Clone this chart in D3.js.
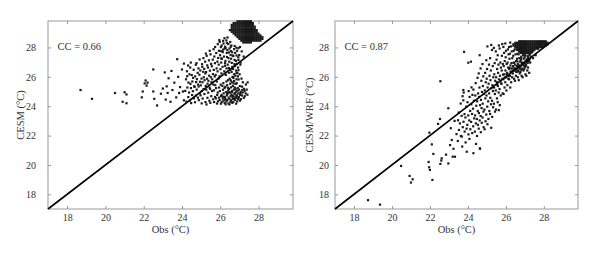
<!DOCTYPE html>
<html><head><meta charset="utf-8">
<script src="https://cdn.jsdelivr.net/npm/d3@7"></script>
<style>
html,body{margin:0;padding:0;background:#fff;}
svg text{font-family:"Liberation Serif","DejaVu Serif",serif;fill:#333;}
</style></head>
<body><svg id="c" width="600" height="256"></svg>
<script>
// Tick labels / axis setup
const tickValues = [18, 20, 22, 24, 26, 28];
const axisDomain = [17, 29.8];
const xTitles = ["Obs (°C)", "Obs (°C)"];
const yTitles = ["CESM (°C)", "CESM/WRF (°C)"];
const ccLabels = ["CC = 0.66", "CC = 0.87"];

// Left panel: [Obs, CESM]
const cesmPoints = [
[18.7,25.1],[19.3,24.5],[20.5,24.9],[20.9,24.3],[21.0,24.95],[21.1,24.2],[21.1,24.8],[21.9,24.6],[21.95,25.0],[22.05,25.55],[22.1,25.75],[22.15,25.4],[22.2,25.6],[22.5,26.5],[22.5,25.0],[22.55,24.5],[22.7,24.05],[22.9,24.85],[23.0,25.2],[23.1,26.3],[23.15,24.45],[23.2,25.35],[23.25,24.9],[23.3,25.9],[23.4,24.3],[23.45,26.4],[23.5,25.1],[23.6,25.6],[23.7,24.6],[23.75,27.2],[23.8,26.0],[23.85,24.9],[23.9,25.3],[24.0,26.5],[24.05,25.0],[24.1,24.4],[24.1,26.9],
[24.23,24.31],[24.17,25.04],[24.21,25.83],[24.26,26.38],
[24.33,24.62],[24.28,25.27],[24.34,25.61],[24.27,26.04],[24.32,26.77],
[24.42,24.38],[24.37,24.93],[24.44,25.52],[24.39,26.17],[24.43,26.63],
[24.48,24.21],[24.53,24.76],[24.47,25.23],[24.54,25.68],[24.51,26.12],[24.46,26.97],
[24.62,24.53],[24.57,25.02],[24.64,25.36],[24.58,25.93],[24.61,26.48],
[24.68,24.27],[24.73,24.72],[24.66,25.31],[24.74,25.64],[24.69,26.03],[24.72,26.82],
[24.83,24.58],[24.77,25.13],[24.84,25.47],[24.78,25.84],[24.82,26.27],[24.76,26.93],
[24.88,24.41],[24.93,24.87],[24.87,25.34],[24.94,25.66],[24.91,26.14],[24.86,26.57],[24.92,27.18],
[25.03,24.19],[24.97,24.74],[25.04,25.03],[24.98,25.42],[25.02,25.88],[24.96,26.43],[25.05,26.86],
[25.08,24.52],[25.13,25.17],[25.07,25.63],[25.14,25.97],[25.11,26.34],[25.06,26.68],[25.12,27.27],
[25.23,24.28],[25.17,24.83],[25.24,25.38],[25.18,25.77],[25.22,26.23],[25.16,26.54],[25.21,27.03],[25.25,27.58],
[25.28,24.12],[25.33,24.57],[25.27,25.12],[25.34,25.53],[25.31,25.87],[25.26,26.32],[25.32,26.78],[25.29,27.43],
[25.43,24.37],[25.37,24.92],[25.44,25.27],[25.38,25.73],[25.42,26.08],[25.36,26.63],[25.41,27.12],[25.45,27.77],
[25.48,24.23],[25.53,24.68],[25.47,25.18],[25.54,25.63],[25.51,25.97],[25.46,26.42],[25.52,26.88],[25.49,27.53],
[25.63,24.47],[25.57,25.03],[25.64,25.47],[25.58,25.83],[25.62,26.18],[25.56,26.72],[25.61,27.17],[25.65,27.88],
[25.68,24.28],[25.73,24.63],[25.67,25.08],[25.74,25.43],[25.71,26.02],[25.66,26.47],[25.72,26.93],[25.69,27.38],[25.73,28.03],
[25.83,24.18],[25.77,24.53],[25.84,24.77],[25.78,25.23],[25.82,25.68],[25.76,26.13],[25.81,26.57],[25.85,27.03],[25.79,27.62],
[25.88,24.33],[25.93,24.58],[25.87,24.93],[25.94,25.27],[25.91,25.88],[25.86,26.37],[25.92,26.83],[25.89,27.28],[25.93,27.77],[25.87,28.22],
[26.03,24.17],[25.97,24.42],[26.04,24.68],[25.98,25.03],[26.02,25.47],[25.96,26.03],[26.01,26.52],[26.05,26.97],[25.99,27.47],[26.03,28.02],[25.97,28.38],
[26.08,24.28],[26.13,24.52],[26.07,24.77],[26.14,25.12],[26.11,25.38],[26.06,26.23],[26.12,26.68],[26.09,27.23],[26.13,27.68],[26.07,28.13],
[26.23,24.22],[26.17,24.38],[26.24,24.63],[26.18,24.88],[26.22,25.23],[26.16,25.57],[26.21,26.37],[26.25,26.93],[26.19,27.38],[26.23,27.92],[26.17,28.27],[26.22,28.63],
[26.28,24.13],[26.33,24.32],[26.27,24.48],[26.34,24.73],[26.31,24.97],[26.26,25.32],[26.32,25.68],[26.29,26.13],[26.33,26.57],[26.27,27.08],[26.34,27.63],[26.28,27.97],[26.32,28.48],
[26.43,24.18],[26.37,24.42],[26.44,24.58],[26.38,24.83],[26.42,25.07],[26.36,25.43],[26.41,25.77],[26.45,26.28],[26.39,26.83],[26.43,27.27],[26.37,27.82],[26.42,28.23],[26.38,28.68],
[26.48,24.12],[26.53,24.28],[26.47,24.52],[26.54,24.68],[26.51,24.93],[26.46,25.18],[26.52,25.53],[26.49,25.87],[26.53,26.47],[26.47,27.03],[26.54,27.48],[26.48,27.93],[26.52,28.37],
[26.63,24.23],[26.57,24.38],[26.64,24.63],[26.58,24.78],[26.62,25.03],[26.56,25.28],[26.61,25.63],[26.65,25.97],[26.59,26.32],[26.63,26.68],[26.57,27.23],[26.62,27.67],[26.58,28.13],
[26.68,24.28],[26.73,24.48],[26.67,24.72],[26.74,24.88],[26.71,25.13],[26.66,25.37],[26.72,25.72],[26.69,25.93],[26.73,26.18],[26.67,26.53],[26.74,26.87],[26.68,27.42],[26.72,27.88],
[26.83,24.17],[26.77,24.43],[26.84,24.57],[26.78,24.82],[26.82,24.98],[26.76,25.27],[26.81,25.52],[26.85,25.83],[26.79,26.07],[26.83,26.42],[26.77,26.73],[26.82,27.08],[26.78,27.63],[26.84,27.98],
[26.88,24.32],[26.93,24.47],[26.87,24.73],[26.94,24.87],[26.91,25.23],[26.86,25.57],[26.92,26.03],[26.89,26.27],[26.93,26.63],[26.87,26.88],[26.94,27.33],[26.88,27.77],
[27.03,24.38],[26.97,24.63],[27.04,24.77],[26.98,25.13],[27.02,25.37],[26.96,25.82],[27.01,26.17],[27.05,26.83],[26.99,27.48],[27.03,28.03],
[27.08,24.48],[27.13,24.73],[27.07,24.97],[27.14,25.33],[27.11,25.88],[27.06,26.97],[27.12,27.73],
[27.23,24.57],[27.17,24.93],[27.24,25.18],[27.18,25.63],[27.22,27.38],
[27.28,24.68],[27.33,24.87],[27.27,25.03],[27.34,25.48],[27.42,24.78],[27.38,25.13],[27.43,25.62],
[26.15,24.65],[26.35,24.9],[26.55,24.4],[26.75,24.6],[26.95,24.55],[26.45,24.95],[26.65,24.5],[26.85,24.7],[27.05,24.9],[26.25,24.45],[26.6,24.95],[26.8,25.15],[26.4,25.25],[26.7,25.55],[26.9,25.05],[27.15,25.1],[26.55,25.75],[26.85,26.25],[26.95,26.45],[26.65,26.0],
[26.05,27.25],[26.15,27.85],[26.35,27.35],[26.45,27.65],[26.55,28.05],[26.65,27.45],[26.75,27.15],[26.85,27.45],[26.95,27.95],[26.25,28.05],[26.35,28.3],[26.55,27.75],[26.75,28.1],[26.15,28.45],[26.05,27.75],[25.95,28.5],[26.45,26.6],[26.25,26.75],[26.6,26.95],[26.95,27.15],
[26.9,29.78],[27.0,29.78],[27.1,29.78],[27.2,29.78],[27.3,29.78],[27.4,29.78],[27.5,29.78],[27.6,29.78],
[26.7,29.66],[26.8,29.66],[26.9,29.66],[27.0,29.66],[27.1,29.66],[27.2,29.66],[27.3,29.66],[27.4,29.66],[27.5,29.66],[27.6,29.66],[27.7,29.66],
[26.6,29.54],[26.7,29.54],[26.8,29.54],[26.9,29.54],[27.0,29.54],[27.1,29.54],[27.2,29.54],[27.3,29.54],[27.4,29.54],[27.5,29.54],[27.6,29.54],[27.7,29.54],
[26.6,29.42],[26.7,29.42],[26.8,29.42],[26.9,29.42],[27.0,29.42],[27.1,29.42],[27.2,29.42],[27.3,29.42],[27.4,29.42],[27.5,29.42],[27.6,29.42],[27.7,29.42],[27.8,29.42],
[26.6,29.3],[26.7,29.3],[26.8,29.3],[26.9,29.3],[27.0,29.3],[27.1,29.3],[27.2,29.3],[27.3,29.3],[27.4,29.3],[27.5,29.3],[27.6,29.3],[27.7,29.3],[27.8,29.3],
[26.5,29.18],[26.6,29.18],[26.7,29.18],[26.8,29.18],[26.9,29.18],[27.0,29.18],[27.1,29.18],[27.2,29.18],[27.3,29.18],[27.4,29.18],[27.5,29.18],[27.6,29.18],[27.7,29.18],[27.8,29.18],[27.9,29.18],
[26.6,29.06],[26.7,29.06],[26.8,29.06],[26.9,29.06],[27.0,29.06],[27.1,29.06],[27.2,29.06],[27.3,29.06],[27.4,29.06],[27.5,29.06],[27.6,29.06],[27.7,29.06],[27.8,29.06],[27.9,29.06],
[26.7,28.94],[26.8,28.94],[26.9,28.94],[27.0,28.94],[27.1,28.94],[27.2,28.94],[27.3,28.94],[27.4,28.94],[27.5,28.94],[27.6,28.94],[27.7,28.94],[27.8,28.94],[27.9,28.94],[28.0,28.94],
[26.8,28.82],[26.9,28.82],[27.0,28.82],[27.1,28.82],[27.2,28.82],[27.3,28.82],[27.4,28.82],[27.5,28.82],[27.6,28.82],[27.7,28.82],[27.8,28.82],[27.9,28.82],[28.0,28.82],[28.1,28.82],
[26.9,28.7],[27.0,28.7],[27.1,28.7],[27.2,28.7],[27.3,28.7],[27.4,28.7],[27.5,28.7],[27.6,28.7],[27.7,28.7],[27.8,28.7],[27.9,28.7],[28.0,28.7],[28.1,28.7],[28.2,28.7],
[27.0,28.58],[27.1,28.58],[27.2,28.58],[27.3,28.58],[27.4,28.58],[27.5,28.58],[27.6,28.58],[27.7,28.58],[27.8,28.58],[27.9,28.58],[28.0,28.58],[28.1,28.58],[28.2,28.58],
[27.1,28.46],[27.2,28.46],[27.3,28.46],[27.4,28.46],[27.5,28.46],[27.6,28.46],[27.7,28.46],[27.8,28.46],[27.9,28.46],[28.0,28.46],[28.1,28.46],
[27.2,28.34],[27.3,28.34],[27.4,28.34],[27.5,28.34],[27.6,28.34]
];

// Right panel: [Obs, CESM/WRF]
const wrfPoints = [
[18.74,17.6],[19.37,17.3],[20.48,19.93],[20.93,19.25],[21.0,18.8],[21.09,19.02],[21.93,20.2],[21.96,19.84],[22.0,19.66],[22.13,18.98],[22.1,21.4],[22.18,20.75],[22.6,20.3],[22.55,20.07],[23.06,21.35],[22.85,20.7],[23.2,20.56],
[22.55,25.7],[21.97,22.2],[22.43,22.79],[22.53,23.13],[22.97,23.86],[23.8,27.7],[24.02,26.96],[24.16,27.03],[23.76,25.1],[23.76,24.4],[23.7,21.25],[23.94,20.9],[24.29,20.8],[24.64,21.1],[23.15,21.7],[23.24,21.1],[23.32,20.56],[22.97,20.1],[22.62,20.45],[23.1,22.5],[23.3,23.0],[23.4,22.1],
[23.47,21.63],[23.53,22.38],[23.48,23.04],[23.52,23.57],
[23.63,21.97],[23.58,22.83],[23.62,24.18],
[23.68,21.93],[23.73,22.57],[23.67,23.34],[23.72,24.68],
[23.83,22.27],[23.77,22.94],[23.82,23.46],[23.78,24.93],
[23.88,21.53],[23.93,22.47],[23.87,23.23],[23.92,23.97],
[24.03,22.08],[23.97,22.73],[24.02,23.37],[23.98,24.27],[24.04,25.03],
[24.08,21.77],[24.13,22.43],[24.07,23.03],[24.12,23.68],[24.09,24.63],
[24.23,22.17],[24.17,22.93],[24.22,23.47],[24.18,24.13],[24.24,24.77],[24.19,25.28],
[24.28,22.63],[24.33,23.17],[24.27,23.83],[24.32,24.37],[24.29,25.13],
[24.43,21.43],[24.37,22.27],[24.42,22.83],[24.38,23.37],[24.44,24.03],[24.39,24.73],[24.41,25.57],
[24.48,21.97],[24.53,22.73],[24.47,23.13],[24.52,23.67],[24.49,24.33],[24.54,24.87],[24.51,25.93],
[24.63,21.13],[24.57,22.47],[24.62,23.03],[24.58,23.53],[24.64,24.07],[24.59,24.63],[24.61,25.27],[24.57,26.23],[24.62,27.47],
[24.68,22.23],[24.73,22.87],[24.67,23.33],[24.72,23.87],[24.69,24.43],[24.74,24.97],[24.71,25.73],[24.67,26.57],
[24.83,22.57],[24.77,23.23],[24.82,23.63],[24.78,24.17],[24.84,24.83],[24.79,25.37],[24.81,26.03],[24.77,26.87],
[24.88,22.43],[24.93,22.97],[24.87,23.77],[24.92,24.53],[24.89,25.07],[24.94,25.63],[24.91,26.27],
[25.03,22.77],[24.97,23.43],[25.02,23.97],[24.98,24.73],[25.04,25.27],[24.99,25.87],[25.01,26.53],[24.97,27.13],[25.03,28.07],
[25.08,23.13],[25.13,23.67],[25.07,24.33],[25.12,24.87],[25.09,25.53],[25.14,26.07],[25.11,26.83],
[25.23,22.53],[25.17,23.47],[25.22,24.13],[25.18,24.57],[25.24,25.23],[25.19,25.77],[25.21,26.43],[25.17,27.27],[25.23,28.17],
[25.28,23.27],[25.33,23.93],[25.27,24.37],[25.32,25.03],[25.29,25.43],[25.34,25.97],[25.31,26.73],[25.27,27.83],
[25.43,23.63],[25.37,24.17],[25.42,24.83],[25.38,25.27],[25.44,25.73],[25.39,26.17],[25.41,26.93],[25.37,27.97],
[25.48,23.77],[25.53,24.53],[25.47,25.07],[25.52,25.63],[25.49,25.97],[25.54,26.53],[25.51,27.17],[25.47,27.73],
[25.63,23.73],[25.57,24.27],[25.62,24.93],[25.58,25.37],[25.64,25.83],[25.59,26.27],[25.61,26.83],[25.57,27.47],[25.63,28.13],
[25.68,24.07],[25.73,24.73],[25.67,25.17],[25.72,25.73],[25.69,26.07],[25.74,26.63],[25.71,26.97],[25.67,27.93],
[25.83,24.87],[25.77,25.53],[25.82,25.87],[25.78,26.43],[25.84,26.87],[25.79,27.43],[25.81,28.23],
[25.88,24.83],[25.93,25.27],[25.87,25.83],[25.92,26.17],[25.89,26.73],[25.94,27.07],[25.91,27.63],[25.87,28.03],
[26.03,25.07],[25.97,25.63],[26.02,25.97],[25.98,26.43],[26.04,26.87],[25.99,27.33],[26.01,27.77],[25.97,28.27],
[26.08,25.43],[26.13,25.87],[26.07,26.27],[26.12,26.63],[26.09,26.97],[26.14,27.53],[26.11,27.87],
[26.23,25.27],[26.17,25.83],[26.22,26.07],[26.18,26.53],[26.24,26.77],[26.19,27.23],[26.21,27.57],[26.17,28.03],[26.23,28.33],
[26.28,25.63],[26.33,25.97],[26.27,26.33],[26.32,26.57],[26.29,26.93],[26.34,27.27],[26.31,27.73],[26.27,28.07],
[26.43,25.87],[26.37,26.23],[26.42,26.47],[26.38,26.73],[26.44,26.97],[26.39,27.43],[26.41,27.77],
[26.48,25.73],[26.53,26.07],[26.47,26.43],[26.52,26.57],[26.49,26.83],[26.54,27.07],[26.51,27.53],[26.47,27.87],
[26.63,25.97],[26.57,26.33],[26.62,26.47],[26.58,26.73],[26.64,26.87],[26.59,27.23],[26.61,27.57],
[26.68,25.77],[26.73,26.23],[26.67,26.37],[26.72,26.63],[26.69,26.77],[26.74,27.03],[26.71,27.27],[26.67,27.53],
[26.83,26.07],[26.77,26.33],[26.82,26.47],[26.78,26.73],[26.84,26.87],[26.79,27.13],[26.81,27.37],[26.77,27.63],
[26.88,25.97],[26.93,26.43],[26.87,26.57],[26.92,26.83],[26.89,26.97],[26.94,27.23],[26.91,27.47],
[27.03,26.17],[26.97,26.53],[27.02,26.67],[26.98,26.93],[27.04,27.07],[26.99,27.33],[27.01,27.57],
[27.08,26.07],[27.13,26.43],[27.07,26.77],[27.12,27.03],[27.09,27.17],[27.14,27.43],[27.11,27.67],
[27.23,26.27],[27.17,26.63],[27.22,27.07],[27.18,27.33],[27.24,27.47],
[27.28,26.97],[27.33,27.37],[27.27,27.57],[27.43,27.27],[27.38,27.67],[27.57,27.47],[27.68,27.93],
[25.55,25.45],[25.75,25.55],[25.95,25.95],[26.15,26.05],[26.35,26.4],[26.55,26.35],[26.75,26.55],[26.95,26.75],[27.15,26.95],[26.25,26.35],[26.45,26.6],[26.65,26.65],[26.85,26.95],[27.05,26.85],[27.25,27.2],[26.05,26.2],[25.85,26.15],[26.6,27.05],[26.8,27.25],[27.0,27.45],[26.4,26.95],[26.2,26.6],[27.15,27.25],[26.95,27.65],
[26.7,28.42],[26.8,28.42],[26.9,28.42],[27.0,28.42],[27.1,28.42],[27.2,28.42],[27.3,28.42],[27.4,28.42],[27.5,28.42],[27.6,28.42],[27.7,28.42],[27.8,28.42],[27.9,28.42],[28.0,28.42],[28.1,28.42],
[26.5,28.32],[26.6,28.32],[26.7,28.32],[26.8,28.32],[26.9,28.32],[27.0,28.32],[27.1,28.32],[27.2,28.32],[27.3,28.32],[27.4,28.32],[27.5,28.32],[27.6,28.32],[27.7,28.32],[27.8,28.32],[27.9,28.32],[28.0,28.32],[28.1,28.32],[28.2,28.32],
[26.4,28.22],[26.5,28.22],[26.6,28.22],[26.7,28.22],[26.8,28.22],[26.9,28.22],[27.0,28.22],[27.1,28.22],[27.2,28.22],[27.3,28.22],[27.4,28.22],[27.5,28.22],[27.6,28.22],[27.7,28.22],[27.8,28.22],[27.9,28.22],[28.0,28.22],[28.1,28.22],[28.2,28.22],
[26.4,28.12],[26.5,28.12],[26.6,28.12],[26.7,28.12],[26.8,28.12],[26.9,28.12],[27.0,28.12],[27.1,28.12],[27.2,28.12],[27.3,28.12],[27.4,28.12],[27.5,28.12],[27.6,28.12],[27.7,28.12],[27.8,28.12],[27.9,28.12],[28.0,28.12],[28.1,28.12],
[26.5,28.02],[26.6,28.02],[26.7,28.02],[26.8,28.02],[26.9,28.02],[27.0,28.02],[27.1,28.02],[27.2,28.02],[27.3,28.02],[27.4,28.02],[27.5,28.02],[27.6,28.02],[27.7,28.02],[27.8,28.02],[27.9,28.02],
[26.6,27.92],[26.7,27.92],[26.8,27.92],[26.9,27.92],[27.0,27.92],[27.1,27.92],[27.2,27.92],[27.3,27.92],[27.4,27.92],[27.5,27.92],[27.6,27.92],[27.7,27.92],
[26.6,27.82],[26.7,27.82],[26.8,27.82],[26.9,27.82],[27.0,27.82],[27.1,27.82],[27.2,27.82],[27.3,27.82],[27.4,27.82],[27.5,27.82],
[26.7,27.72],[26.8,27.72],[26.9,27.72],[27.0,27.72],[27.1,27.72],[27.2,27.72],[27.3,27.72],[27.4,27.72],
[26.8,27.62],[26.9,27.62],[27.0,27.62],[27.1,27.62],[27.2,27.62],[27.3,27.62]
];

const panels = [
  {pts: cesmPoints, left: 48, right: 293, yPad: 12, ylabX: 24},
  {pts: wrfPoints, left: 335, right: 578, yPad: 6, ylabX: 313}
];
const plotTop = 21, plotBottom = 209;
const markSize = 2.2;
const svg = d3.select("#c");

panels.forEach((p, i) => {
  const x = d3.scaleLinear().domain(axisDomain).range([p.left, p.right]);
  const y = d3.scaleLinear().domain(axisDomain).range([plotBottom, plotTop]);
  const g = svg.append("g");

  g.append("rect").attr("x", p.left).attr("y", plotTop)
    .attr("width", p.right - p.left).attr("height", plotBottom - plotTop)
    .attr("fill", "none").attr("stroke", "#999").attr("stroke-width", 1);

  const styleAxis = sel => {
    sel.select(".domain").remove();
    sel.selectAll(".tick line").attr("stroke", "#999");
    sel.selectAll(".tick text").attr("font-size", 10).attr("fill", "#333")
      .style("font-family", "'Liberation Serif', serif");
  };
  g.append("g").attr("transform", `translate(0,${plotBottom})`)
    .call(d3.axisBottom(x).tickValues(tickValues).tickSizeInner(-3).tickSizeOuter(0).tickPadding(5))
    .call(styleAxis);
  g.append("g").attr("transform", `translate(0,${plotTop})`)
    .call(d3.axisTop(x).tickValues(tickValues).tickSizeInner(-3).tickSizeOuter(0).tickFormat(""))
    .call(styleAxis);
  g.append("g").attr("transform", `translate(${p.left},0)`)
    .call(d3.axisLeft(y).tickValues(tickValues).tickSizeInner(-3).tickSizeOuter(0).tickPadding(p.yPad))
    .call(styleAxis);
  g.append("g").attr("transform", `translate(${p.right},0)`)
    .call(d3.axisRight(y).tickValues(tickValues).tickSizeInner(-3).tickSizeOuter(0).tickFormat(""))
    .call(styleAxis);

  g.append("g").selectAll("rect").data(p.pts).join("rect")
    .attr("x", d => x(d[0]) - markSize / 2).attr("y", d => y(d[1]) - markSize / 2)
    .attr("width", markSize).attr("height", markSize).attr("fill", "#1a1a1a");

  g.append("line")
    .attr("x1", x(axisDomain[0])).attr("y1", y(axisDomain[0]))
    .attr("x2", x(axisDomain[1])).attr("y2", y(axisDomain[1]))
    .attr("stroke", "#000").attr("stroke-width", 1.6);

  g.append("text").attr("x", x(17.5)).attr("y", y(28) + 3)
    .attr("font-size", 10.5).text(ccLabels[i]);

  g.append("text").attr("x", (p.left + p.right) / 2).attr("y", 233)
    .attr("text-anchor", "middle").attr("font-size", 10.5).text(xTitles[i]);

  g.append("text")
    .attr("transform", `translate(${p.ylabX},${(plotTop + plotBottom) / 2}) rotate(-90)`)
    .attr("text-anchor", "middle").attr("font-size", 10.5).text(yTitles[i]);
});
</script></body></html>
